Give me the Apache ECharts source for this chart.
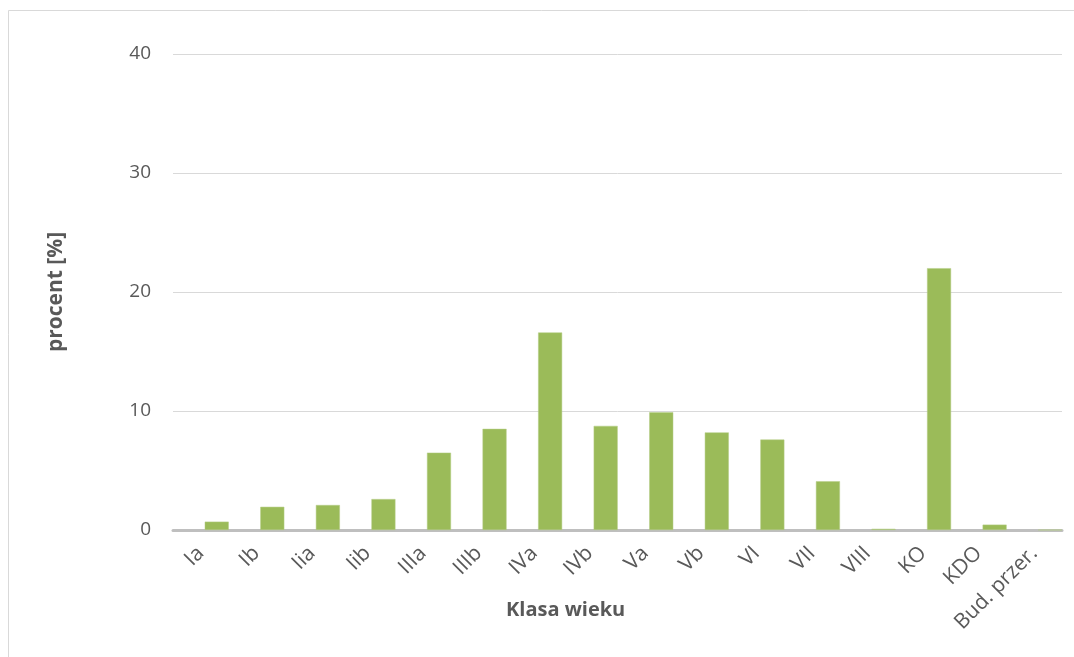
<!DOCTYPE html>
<html>
<head>
<meta charset="utf-8">
<script src="https://cdn.jsdelivr.net/npm/echarts@6/dist/echarts.min.js"></script>
<style>
html,body{margin:0;padding:0;background:#fff;}
#c{width:1074px;height:657px;}
</style>
</head>
<body>
<div id="c"></div>
<script>
const categories = ['Ia','Ib','Iia','Iib','IIIa','IIIb','IVa','IVb','Va','Vb','VI','VII','VIII','KO','KDO','Bud. przer.'];
const percentValues = [0.7, 1.95, 2.1, 2.6, 6.5, 8.5, 16.6, 8.75, 9.9, 8.2, 7.6, 4.1, 0.1, 22.0, 0.45, 0];
const yMin = 0, yMax = 40, yStep = 10;
const xTitle = 'Klasa wieku';
const yTitle = 'procent [%]';

const chart = echarts.init(document.getElementById('c'), null, {renderer:'canvas'});
const txt = '#595959';
chart.setOption({
  animation: false,
  backgroundColor: '#fff',
  graphic: [{
    type: 'rect', silent: true, z: -1,
    shape: {x: 8.5, y: 10.5, width: 1200, height: 800},
    style: {fill: 'none', stroke: '#d9d9d9', lineWidth: 1}
  }, {
    type: 'text', silent: true, left: 506, top: 600,
    style: {text: xTitle, fill: txt, font: 'bold 20px "Open Sans"'}
  }],
  grid: {left: 173, right: 12, top: 54, bottom: 127, containLabel: false},
  xAxis: {
    type: 'category',
    data: categories,
    axisLine: {lineStyle: {color: '#bfbfbf', width: 3}},
    axisTick: {show: false},
    axisLabel: {rotate: 45, color: txt, fontSize: 21, fontFamily: 'Open Sans', margin: 20, interval: 0}
  },
  yAxis: {
    type: 'value',
    min: yMin, max: yMax, interval: yStep,
    name: yTitle,
    nameLocation: 'middle',
    nameGap: 106,
    nameTextStyle: {color: txt, fontSize: 21, fontWeight: 'bold', fontFamily: 'Open Sans'},
    axisLine: {show: false},
    axisTick: {show: false},
    axisLabel: {color: txt, fontSize: 19, fontFamily: 'Open Sans', margin: 22},
    splitLine: {lineStyle: {color: '#d9d9d9', width: 1}}
  },
  series: [
    {type: 'bar', name: 'placeholder', data: [], barWidth: 24, barGap: '33%'},
    {type: 'bar', name: 'procent', data: percentValues, barWidth: 24, barGap: '33%',
     itemStyle: {color: '#9bbb59', borderColor: '#b5cd86', borderWidth: 0.5}}
  ]
});
</script>
</body>
</html>
